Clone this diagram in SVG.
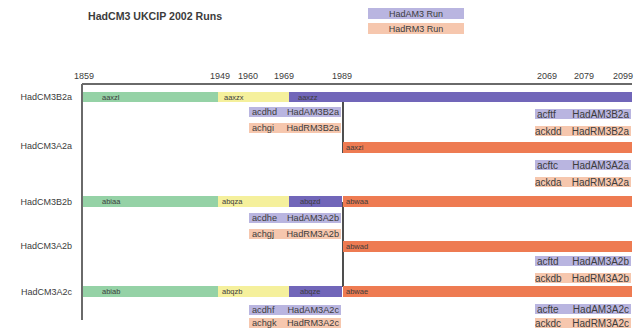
<svg xmlns="http://www.w3.org/2000/svg" width="641" height="329" viewBox="0 0 641 329">
<style>
text{font-family:"Liberation Sans",Arial,sans-serif;fill:#3c3c3c}
.t{font-size:10.6px;font-weight:bold}
.y{font-size:9px}
.r{font-size:9px}
.b{font-size:7.5px}
.s{font-size:9.2px}
.sr{font-size:10px}
.lg{font-size:9px}
.g{fill:#95d2a6}
.ye{fill:#f5f09c}
.p{fill:#7166b9}
.lp{fill:#b9b5e0}
.o{fill:#ee7b52}
.pe{fill:#f6c7ae}
.ax{stroke:#6a6a6a;stroke-width:2;fill:none}
.v{stroke:#222;stroke-width:1.6;fill:none}
</style>
<rect width="641" height="329" fill="#fff"/>
<text class="t" x="88" y="20">HadCM3 UKCIP 2002 Runs</text>
<g id="legend">
<rect class="lp" x="368" y="8" width="96" height="11"/>
<text class="lg" x="416" y="16.5" text-anchor="middle">HadAM3 Run</text>
<rect class="pe" x="368" y="23" width="96" height="11"/>
<text class="lg" x="416" y="31.5" text-anchor="middle">HadRM3 Run</text>
</g>
<g id="axis">
<line class="ax" x1="82" y1="84" x2="632" y2="84"/>
<line class="ax" x1="82" y1="84" x2="82" y2="320"/>
<text class="y" x="84" y="79" text-anchor="middle">1859</text>
<text class="y" x="220" y="79" text-anchor="middle">1949</text>
<text class="y" x="248" y="79" text-anchor="middle">1960</text>
<text class="y" x="284" y="79" text-anchor="middle">1969</text>
<text class="y" x="342" y="79" text-anchor="middle">1989</text>
<text class="y" x="547" y="79" text-anchor="middle">2069</text>
<text class="y" x="584" y="79" text-anchor="middle">2079</text>
<text class="y" x="623" y="79" text-anchor="middle">2099</text>
</g>
<g id="row-labels">
<text class="r" x="72" y="100" text-anchor="end">HadCM3B2a</text>
<text class="r" x="72" y="149" text-anchor="end">HadCM3A2a</text>
<text class="r" x="72" y="205" text-anchor="end">HadCM3B2b</text>
<text class="r" x="72" y="249" text-anchor="end">HadCM3A2b</text>
<text class="r" x="72" y="295" text-anchor="end">HadCM3A2c</text>
</g>
<g id="connectors">
<line class="v" x1="343" y1="97" x2="343" y2="153"/>
<line class="v" x1="343" y1="202" x2="343" y2="287"/>
</g>
<g id="HadCM3B2a">
<rect class="g" x="83" y="92" width="135" height="10"/><text class="b" x="102" y="99.5">aaxzl</text>
<rect class="ye" x="218" y="92" width="71" height="10"/><text class="b" x="224" y="99.5">aaxzx</text>
<rect class="p" x="289" y="92" width="343" height="10"/><text class="b" x="298" y="99.5">aaxzz</text>
</g>
<g id="acdhd"><rect class="lp" x="249" y="107" width="92" height="10"/><text class="s" x="252" y="115">acdhd</text><text class="s" x="339" y="115" text-anchor="end">HadAM3B2a</text></g>
<g id="achgi"><rect class="pe" x="249" y="123" width="92" height="10"/><text class="s" x="252" y="131">achgi</text><text class="s" x="339" y="131" text-anchor="end">HadRM3B2a</text></g>
<g id="acftf"><rect class="lp" x="535" y="109" width="96" height="10"/><text class="sr" x="537" y="117.5">acftf</text><text class="sr" x="629" y="117.5" text-anchor="end">HadAM3B2a</text></g>
<g id="ackdd"><rect class="pe" x="535" y="126" width="96" height="10"/><text class="sr" x="535" y="134.5">ackdd</text><text class="sr" x="629" y="134.5" text-anchor="end">HadRM3B2a</text></g>
<g id="aaxzi"><rect class="o" x="343" y="142" width="289" height="11"/><text class="b" x="346" y="150">aaxzi</text></g>
<g id="acftc"><rect class="lp" x="535" y="160" width="96" height="10"/><text class="sr" x="537" y="168.5">acftc</text><text class="sr" x="629" y="168.5" text-anchor="end">HadAM3A2a</text></g>
<g id="ackda"><rect class="pe" x="535" y="177" width="96" height="10"/><text class="sr" x="535" y="185.5">ackda</text><text class="sr" x="629" y="185.5" text-anchor="end">HadRM3A2a</text></g>
<g id="HadCM3B2b">
<rect class="g" x="83" y="196" width="135" height="11"/><text class="b" x="102" y="204">abiaa</text>
<rect class="ye" x="218" y="196" width="71" height="11"/><text class="b" x="222" y="204">abqza</text>
<rect class="p" x="289" y="196" width="53" height="11"/><text class="b" x="300" y="204">abqzd</text>
<rect class="o" x="343" y="196" width="289" height="11"/><text class="b" x="346" y="204">abwaa</text>
</g>
<g id="acdhe"><rect class="lp" x="249" y="213" width="92" height="10"/><text class="s" x="252" y="221">acdhe</text><text class="s" x="339" y="221" text-anchor="end">HadAM3A2b</text></g>
<g id="achgj"><rect class="pe" x="249" y="229" width="92" height="10"/><text class="s" x="252" y="237">achgj</text><text class="s" x="339" y="237" text-anchor="end">HadRM3A2b</text></g>
<g id="abwad"><rect class="o" x="343" y="241" width="289" height="11"/><text class="b" x="346" y="249">abwad</text></g>
<g id="acftd"><rect class="lp" x="535" y="256" width="96" height="10"/><text class="sr" x="537" y="264.5">acftd</text><text class="sr" x="629" y="264.5" text-anchor="end">HadAM3A2b</text></g>
<g id="ackdb"><rect class="pe" x="535" y="273" width="96" height="10"/><text class="sr" x="535" y="281.5">ackdb</text><text class="sr" x="629" y="281.5" text-anchor="end">HadRM3A2b</text></g>
<g id="HadCM3A2c">
<rect class="g" x="83" y="286" width="135" height="11"/><text class="b" x="102" y="294">abiab</text>
<rect class="ye" x="218" y="286" width="71" height="11"/><text class="b" x="222" y="294">abqzb</text>
<rect class="p" x="289" y="286" width="53" height="11"/><text class="b" x="300" y="294">abqze</text>
<rect class="o" x="343" y="286" width="289" height="11"/><text class="b" x="346" y="294">abwae</text>
</g>
<g id="acdhf"><rect class="lp" x="249" y="305" width="92" height="10"/><text class="s" x="252" y="313">acdhf</text><text class="s" x="339" y="313" text-anchor="end">HadAM3A2c</text></g>
<g id="achgk"><rect class="pe" x="249" y="318" width="92" height="10"/><text class="s" x="252" y="326">achgk</text><text class="s" x="339" y="326" text-anchor="end">HadRM3A2c</text></g>
<g id="acfte"><rect class="lp" x="535" y="304" width="96" height="10"/><text class="sr" x="537" y="312.5">acfte</text><text class="sr" x="629" y="312.5" text-anchor="end">HadAM3A2c</text></g>
<g id="ackdc"><rect class="pe" x="535" y="318" width="96" height="10"/><text class="sr" x="535" y="326.5">ackdc</text><text class="sr" x="629" y="326.5" text-anchor="end">HadRM3A2c</text></g>
</svg>
